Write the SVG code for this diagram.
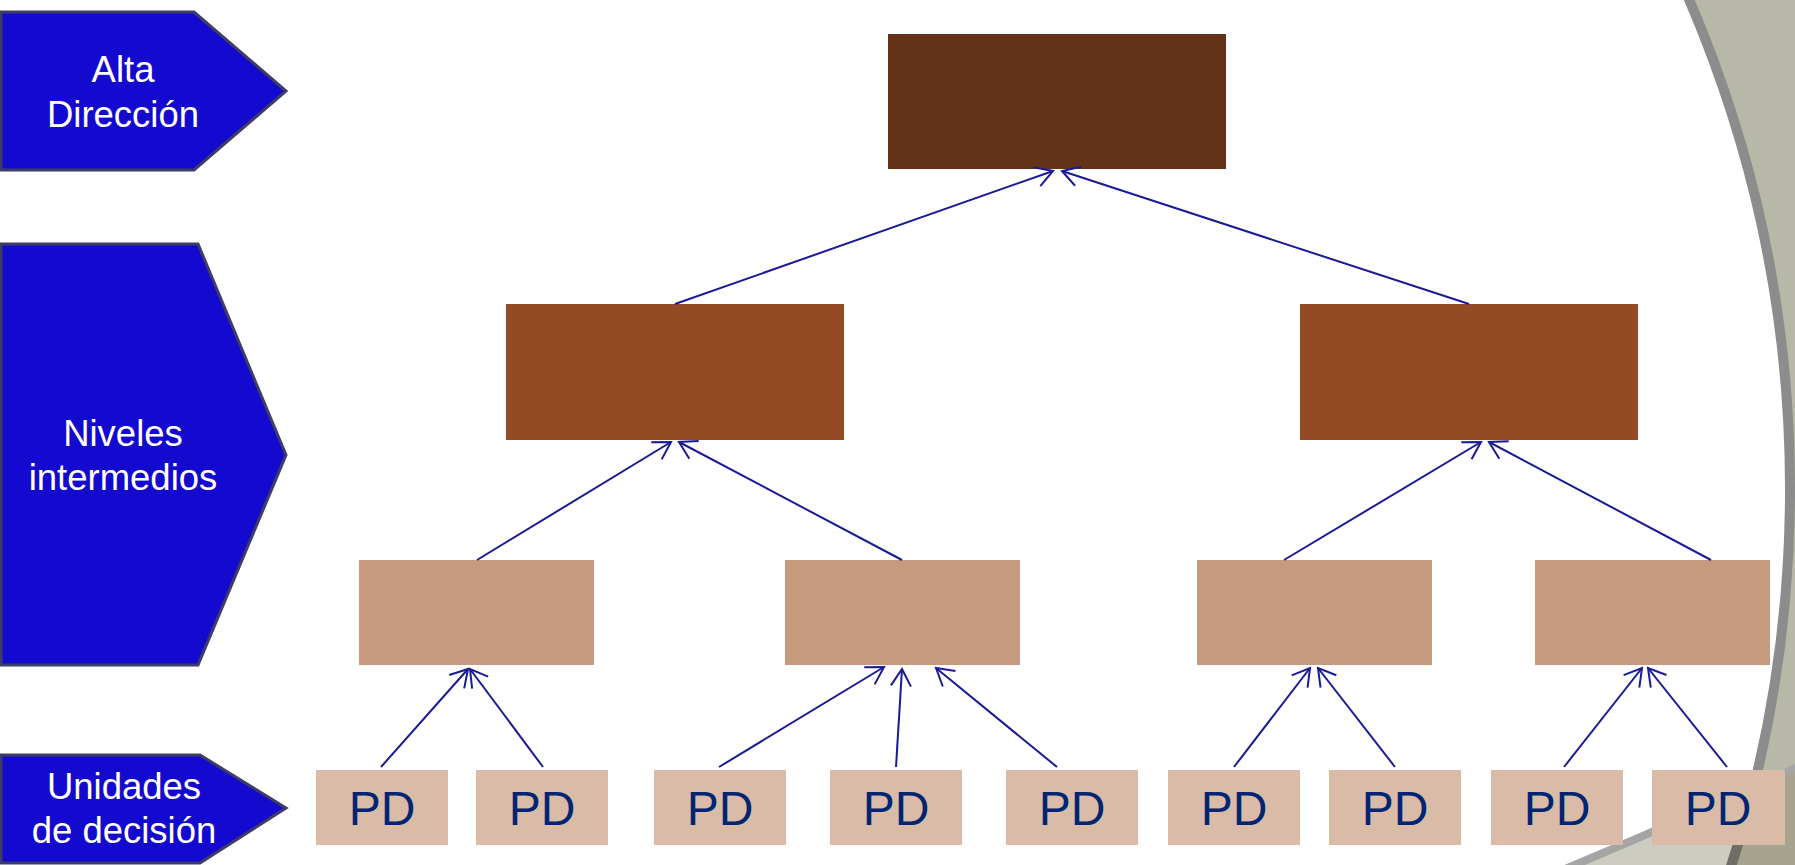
<svg xmlns="http://www.w3.org/2000/svg" width="1795" height="865" viewBox="0 0 1795 865">
<style>
.lbl{fill:#1409CE;stroke:#3D3D68;stroke-width:3;stroke-linejoin:miter}
.lt{font-family:"Liberation Sans",Arial,sans-serif;font-size:36.5px;fill:#FFFFFF;text-anchor:middle}
.b0{fill:#633218}
.b1{fill:#924B22}
.b2{fill:#C69A7E}
.pd{fill:#D9BBA7}
.pt{font-family:"Liberation Sans",Arial,sans-serif;font-size:48px;fill:#002673;text-anchor:middle}
.c{stroke:#1A1A96;stroke-width:2;fill:none;marker-end:url(#arr)}
</style>
<defs>
<marker id="arr" markerUnits="userSpaceOnUse" markerWidth="24" markerHeight="24" viewBox="-20 -12 24 24" refX="0" refY="0" orient="auto" overflow="visible">
<path d="M -17 -10 L 0 0 L -17 10" fill="none" stroke="#1A1A96" stroke-width="2"/>
</marker>
<clipPath id="inC"><circle cx="553" cy="489" r="1237"/></clipPath>
<clipPath id="lowClip"><path d="M 1450 916 Q 1640 840 1800 766 L 1800 870 L 1450 870 Z"/></clipPath>
</defs>
<g id="background">
<rect width="1795" height="865" fill="#B8B8A8"/>
<circle cx="553" cy="489" r="1237" fill="#FFFFFF"/>
<path d="M 1450 916 Q 1640 840 1800 766 L 1800 870 L 1450 870 Z" fill="#A6A48E"/>
<path d="M 1450 916 Q 1640 840 1800 766 L 1800 870 L 1450 870 Z" fill="#CCCCC0" clip-path="url(#inC)"/>
<path d="M 1450 916 Q 1640 840 1800 766" fill="none" stroke="#A5A5A5" stroke-width="8"/>
<circle cx="553" cy="489" r="1237" fill="none" stroke="#8C8C8C" stroke-width="10"/>
<circle cx="553" cy="489" r="1237" fill="none" stroke="#6E6E66" stroke-width="10" clip-path="url(#lowClip)"/>
</g>
<g id="label-alta">
<path class="lbl" d="M 1 12 L 194 12 L 286 91 L 194 170 L 1 170 Z"/>
<text class="lt" x="123" y="82">Alta</text>
<text class="lt" x="123" y="127">Dirección</text>
</g>
<g id="label-niveles">
<path class="lbl" d="M 1 244 L 198 244 L 286 455 L 198 665 L 1 665 Z"/>
<text class="lt" x="123" y="446">Niveles</text>
<text class="lt" x="123" y="490">intermedios</text>
</g>
<g id="label-unidades">
<path class="lbl" d="M 1 755 L 200 755 L 286 808 L 200 863 L 1 863 Z"/>
<text class="lt" x="124" y="799">Unidades</text>
<text class="lt" x="124" y="843">de decisión</text>
</g>
<g id="top"><rect class="b0" x="888" y="34" width="338" height="135"/></g>
<g id="mid-left"><rect class="b1" x="506" y="304" width="338" height="136"/></g>
<g id="mid-right"><rect class="b1" x="1300" y="304" width="338" height="136"/></g>
<g id="l3-a"><rect class="b2" x="359" y="560" width="235" height="105"/></g>
<g id="l3-b"><rect class="b2" x="785" y="560" width="235" height="105"/></g>
<g id="l3-c"><rect class="b2" x="1197" y="560" width="235" height="105"/></g>
<g id="l3-d"><rect class="b2" x="1535" y="560" width="235" height="105"/></g>
<g id="pd1"><rect class="pd" x="316" y="770" width="132" height="75"/><text class="pt" x="382" y="825">PD</text></g>
<g id="pd2"><rect class="pd" x="476" y="770" width="132" height="75"/><text class="pt" x="542" y="825">PD</text></g>
<g id="pd3"><rect class="pd" x="654" y="770" width="132" height="75"/><text class="pt" x="720" y="825">PD</text></g>
<g id="pd4"><rect class="pd" x="830" y="770" width="132" height="75"/><text class="pt" x="896" y="825">PD</text></g>
<g id="pd5"><rect class="pd" x="1006" y="770" width="132" height="75"/><text class="pt" x="1072" y="825">PD</text></g>
<g id="pd6"><rect class="pd" x="1168" y="770" width="132" height="75"/><text class="pt" x="1234" y="825">PD</text></g>
<g id="pd7"><rect class="pd" x="1329" y="770" width="132" height="75"/><text class="pt" x="1395" y="825">PD</text></g>
<g id="pd8"><rect class="pd" x="1491" y="770" width="132" height="75"/><text class="pt" x="1557" y="825">PD</text></g>
<g id="pd9"><rect class="pd" x="1652" y="770" width="133" height="75"/><text class="pt" x="1718" y="825">PD</text></g>
<g id="connectors">
<line class="c" x1="675" y1="304" x2="1053" y2="171"/>
<line class="c" x1="1469" y1="304" x2="1062" y2="171"/>
<line class="c" x1="477" y1="560" x2="671" y2="442"/>
<line class="c" x1="902" y1="560" x2="679" y2="442"/>
<line class="c" x1="1284" y1="560" x2="1481" y2="442"/>
<line class="c" x1="1711" y1="560" x2="1489" y2="442"/>
<line class="c" x1="381" y1="767" x2="468" y2="669"/>
<line class="c" x1="543" y1="767" x2="470" y2="669"/>
<line class="c" x1="719" y1="767" x2="884" y2="667"/>
<line class="c" x1="896" y1="767" x2="902" y2="669"/>
<line class="c" x1="1057" y1="767" x2="936" y2="668"/>
<line class="c" x1="1234" y1="767" x2="1310" y2="668"/>
<line class="c" x1="1395" y1="767" x2="1318" y2="668"/>
<line class="c" x1="1564" y1="767" x2="1642" y2="668"/>
<line class="c" x1="1727" y1="767" x2="1648" y2="668"/>
</g>
</svg>
